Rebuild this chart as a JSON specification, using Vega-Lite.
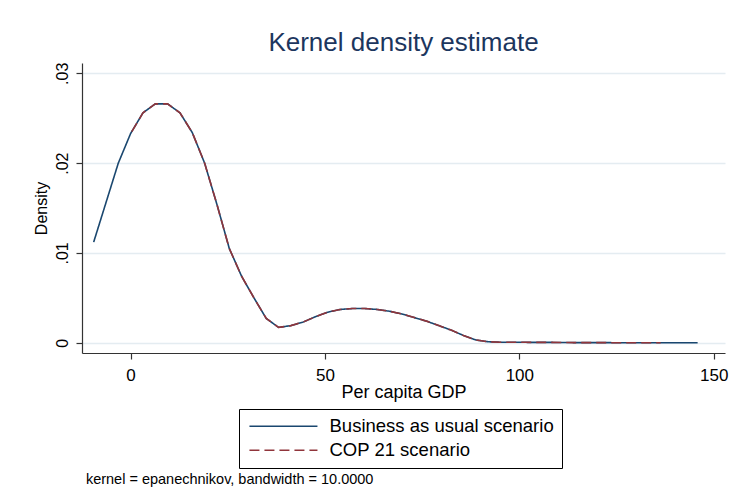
{
  "$schema": "https://vega.github.io/schema/vega-lite/v6.json",
  "autosize": {"type": "none"},
  "width": 643,
  "height": 290,
  "padding": {"left": 82, "top": 63, "right": 7, "bottom": 146},
  "background": "white",
  "title": {
    "text": "Kernel density estimate",
    "fontSize": 26,
    "fontWeight": "normal",
    "font": "Liberation Sans",
    "color": "#1c365e",
    "anchor": "middle",
    "frame": "group",
    "offset": 6
  },
  "datasets": {
    "kd": [
      {"gdp": -9.5, "density": 0.0112, "scenario": "Business as usual scenario"},
      {"gdp": -6.33, "density": 0.0156, "scenario": "Business as usual scenario"},
      {"gdp": -3.16, "density": 0.02, "scenario": "Business as usual scenario"},
      {"gdp": 0.01, "density": 0.0233, "scenario": "Business as usual scenario"},
      {"gdp": 3.18, "density": 0.0256, "scenario": "Business as usual scenario"},
      {"gdp": 6.35, "density": 0.0266, "scenario": "Business as usual scenario"},
      {"gdp": 9.52, "density": 0.0266, "scenario": "Business as usual scenario"},
      {"gdp": 12.7, "density": 0.0256, "scenario": "Business as usual scenario"},
      {"gdp": 15.87, "density": 0.0234, "scenario": "Business as usual scenario"},
      {"gdp": 19.04, "density": 0.02, "scenario": "Business as usual scenario"},
      {"gdp": 22.21, "density": 0.0154, "scenario": "Business as usual scenario"},
      {"gdp": 25.38, "density": 0.0105, "scenario": "Business as usual scenario"},
      {"gdp": 28.55, "density": 0.0074, "scenario": "Business as usual scenario"},
      {"gdp": 31.72, "density": 0.005, "scenario": "Business as usual scenario"},
      {"gdp": 34.89, "density": 0.0027, "scenario": "Business as usual scenario"},
      {"gdp": 38.07, "density": 0.0017, "scenario": "Business as usual scenario"},
      {"gdp": 41.24, "density": 0.0019, "scenario": "Business as usual scenario"},
      {"gdp": 44.41, "density": 0.0023, "scenario": "Business as usual scenario"},
      {"gdp": 47.58, "density": 0.0029, "scenario": "Business as usual scenario"},
      {"gdp": 50.75, "density": 0.0034, "scenario": "Business as usual scenario"},
      {"gdp": 53.92, "density": 0.0037, "scenario": "Business as usual scenario"},
      {"gdp": 57.09, "density": 0.0038, "scenario": "Business as usual scenario"},
      {"gdp": 60.26, "density": 0.0038, "scenario": "Business as usual scenario"},
      {"gdp": 63.43, "density": 0.0037, "scenario": "Business as usual scenario"},
      {"gdp": 66.6, "density": 0.0035, "scenario": "Business as usual scenario"},
      {"gdp": 69.77, "density": 0.0032, "scenario": "Business as usual scenario"},
      {"gdp": 72.94, "density": 0.0028, "scenario": "Business as usual scenario"},
      {"gdp": 76.11, "density": 0.0024, "scenario": "Business as usual scenario"},
      {"gdp": 79.28, "density": 0.0019, "scenario": "Business as usual scenario"},
      {"gdp": 82.45, "density": 0.0014, "scenario": "Business as usual scenario"},
      {"gdp": 85.62, "density": 0.0008, "scenario": "Business as usual scenario"},
      {"gdp": 88.79, "density": 0.0003, "scenario": "Business as usual scenario"},
      {"gdp": 91.97, "density": 0.0001, "scenario": "Business as usual scenario"},
      {"gdp": 95.14, "density": 0.00005, "scenario": "Business as usual scenario"},
      {"gdp": 98.31, "density": 0.00004, "scenario": "Business as usual scenario"},
      {"gdp": 101.48, "density": 0.00004, "scenario": "Business as usual scenario"},
      {"gdp": 104.65, "density": 0.00003, "scenario": "Business as usual scenario"},
      {"gdp": 107.82, "density": 0.00003, "scenario": "Business as usual scenario"},
      {"gdp": 110.99, "density": 0.00002, "scenario": "Business as usual scenario"},
      {"gdp": 114.16, "density": 0.00001, "scenario": "Business as usual scenario"},
      {"gdp": 117.33, "density": 0.00001, "scenario": "Business as usual scenario"},
      {"gdp": 120.5, "density": 0.00001, "scenario": "Business as usual scenario"},
      {"gdp": 123.67, "density": 0, "scenario": "Business as usual scenario"},
      {"gdp": 126.84, "density": 0, "scenario": "Business as usual scenario"},
      {"gdp": 130.01, "density": 0, "scenario": "Business as usual scenario"},
      {"gdp": 133.18, "density": 0, "scenario": "Business as usual scenario"},
      {"gdp": 136.35, "density": 0, "scenario": "Business as usual scenario"},
      {"gdp": 139.52, "density": 0, "scenario": "Business as usual scenario"},
      {"gdp": 142.69, "density": 0, "scenario": "Business as usual scenario"},
      {"gdp": 145.86, "density": 0, "scenario": "Business as usual scenario"},
      {"gdp": 0.3, "density": 0.0235, "scenario": "COP 21 scenario"},
      {"gdp": 3.18, "density": 0.0256, "scenario": "COP 21 scenario"},
      {"gdp": 6.35, "density": 0.0266, "scenario": "COP 21 scenario"},
      {"gdp": 9.52, "density": 0.0266, "scenario": "COP 21 scenario"},
      {"gdp": 12.7, "density": 0.0256, "scenario": "COP 21 scenario"},
      {"gdp": 15.87, "density": 0.0234, "scenario": "COP 21 scenario"},
      {"gdp": 19.04, "density": 0.02, "scenario": "COP 21 scenario"},
      {"gdp": 22.21, "density": 0.0154, "scenario": "COP 21 scenario"},
      {"gdp": 25.38, "density": 0.0105, "scenario": "COP 21 scenario"},
      {"gdp": 28.55, "density": 0.0074, "scenario": "COP 21 scenario"},
      {"gdp": 31.72, "density": 0.005, "scenario": "COP 21 scenario"},
      {"gdp": 34.89, "density": 0.0027, "scenario": "COP 21 scenario"},
      {"gdp": 38.07, "density": 0.0017, "scenario": "COP 21 scenario"},
      {"gdp": 41.24, "density": 0.0019, "scenario": "COP 21 scenario"},
      {"gdp": 44.41, "density": 0.0023, "scenario": "COP 21 scenario"},
      {"gdp": 47.58, "density": 0.0029, "scenario": "COP 21 scenario"},
      {"gdp": 50.75, "density": 0.0034, "scenario": "COP 21 scenario"},
      {"gdp": 53.92, "density": 0.0037, "scenario": "COP 21 scenario"},
      {"gdp": 57.09, "density": 0.0038, "scenario": "COP 21 scenario"},
      {"gdp": 60.26, "density": 0.0038, "scenario": "COP 21 scenario"},
      {"gdp": 63.43, "density": 0.0037, "scenario": "COP 21 scenario"},
      {"gdp": 66.6, "density": 0.0035, "scenario": "COP 21 scenario"},
      {"gdp": 69.77, "density": 0.0032, "scenario": "COP 21 scenario"},
      {"gdp": 72.94, "density": 0.0028, "scenario": "COP 21 scenario"},
      {"gdp": 76.11, "density": 0.0024, "scenario": "COP 21 scenario"},
      {"gdp": 79.28, "density": 0.0019, "scenario": "COP 21 scenario"},
      {"gdp": 82.45, "density": 0.0014, "scenario": "COP 21 scenario"},
      {"gdp": 85.62, "density": 0.0008, "scenario": "COP 21 scenario"},
      {"gdp": 88.79, "density": 0.0003, "scenario": "COP 21 scenario"},
      {"gdp": 91.97, "density": 0.0001, "scenario": "COP 21 scenario"},
      {"gdp": 95.14, "density": 0.00005, "scenario": "COP 21 scenario"},
      {"gdp": 98.31, "density": 0.00004, "scenario": "COP 21 scenario"},
      {"gdp": 101.48, "density": 0.00004, "scenario": "COP 21 scenario"},
      {"gdp": 104.65, "density": 0.00003, "scenario": "COP 21 scenario"},
      {"gdp": 107.82, "density": 0.00003, "scenario": "COP 21 scenario"},
      {"gdp": 110.99, "density": 0.00002, "scenario": "COP 21 scenario"},
      {"gdp": 114.16, "density": 0.00001, "scenario": "COP 21 scenario"},
      {"gdp": 117.33, "density": 0.00001, "scenario": "COP 21 scenario"},
      {"gdp": 120.5, "density": 0.00001, "scenario": "COP 21 scenario"},
      {"gdp": 123.67, "density": 0, "scenario": "COP 21 scenario"},
      {"gdp": 126.84, "density": 0, "scenario": "COP 21 scenario"},
      {"gdp": 130.01, "density": 0, "scenario": "COP 21 scenario"},
      {"gdp": 133.18, "density": 0, "scenario": "COP 21 scenario"},
      {"gdp": 136.35, "density": 0, "scenario": "COP 21 scenario"}
    ],
    "note": [
      {"note": "kernel = epanechnikov, bandwidth = 10.0000"}
    ]
  },
  "layer": [
    {
      "data": {"name": "kd"},
      "mark": {"type": "line", "strokeWidth": 1.6},
      "encoding": {
        "x": {
          "field": "gdp",
          "type": "quantitative",
          "title": "Per capita GDP",
          "scale": {"domain": [-12.5, 152.9], "nice": false, "zero": false},
          "axis": {"values": [0, 50, 100, 150], "grid": false, "labelPadding": 8, "titlePadding": 0}
        },
        "y": {
          "field": "density",
          "type": "quantitative",
          "title": "Density",
          "scale": {"domain": [-0.00115, 0.03115], "nice": false, "zero": false},
          "axis": {
            "values": [0, 0.01, 0.02, 0.03],
            "labelExpr": "datum.value == 0 ? '0' : substring(format(datum.value, '.2f'), 1)",
            "labelAngle": -90,
            "labelAlign": "center",
            "labelBaseline": "bottom",
            "labelPadding": 6,
            "labelFontSize": 16,
            "titleFontSize": 16,
            "titlePadding": 5,
            "grid": true,
            "gridColor": "#e4ecf1",
            "gridWidth": 1.5
          }
        },
        "color": {
          "field": "scenario",
          "type": "nominal",
          "title": null,
          "scale": {"domain": ["Business as usual scenario", "COP 21 scenario"], "range": ["#1a476f", "#90353b"]}
        },
        "strokeDash": {
          "field": "scenario",
          "type": "nominal",
          "title": null,
          "scale": {"domain": ["Business as usual scenario", "COP 21 scenario"], "range": [[1, 0], [10, 5]]}
        }
      }
    },
    {
      "data": {"name": "note"},
      "mark": {"type": "text", "align": "left", "baseline": "middle", "fontSize": 14.5, "font": "Liberation Sans", "color": "#000000"},
      "encoding": {
        "text": {"field": "note"},
        "x": {"datum": -11.5},
        "y": {"datum": -0.0153}
      }
    }
  ],
  "config": {
    "font": "Liberation Sans",
    "view": {"stroke": null},
    "axis": {
      "domainColor": "#333333",
      "domainWidth": 1.2,
      "tickColor": "#333333",
      "tickWidth": 1.2,
      "tickSize": 6,
      "labelFont": "Liberation Sans",
      "titleFont": "Liberation Sans",
      "labelColor": "#000000",
      "titleColor": "#000000",
      "labelFontSize": 17,
      "titleFontSize": 18,
      "titleFontWeight": "normal"
    },
    "legend": {
      "orient": "none",
      "legendX": 157,
      "legendY": 346,
      "strokeColor": "#000000",
      "strokeWidth": 1,
      "padding": 8,
      "symbolType": "M-1,0H9",
      "symbolSize": 185,
      "symbolStrokeWidth": 1.6,
      "symbolFillColor": "transparent",
      "labelFont": "Liberation Sans",
      "labelFontSize": 18.5,
      "labelColor": "#000000",
      "labelOffset": 64,
      "labelLimit": 0,
      "rowPadding": 5
    }
  }
}
